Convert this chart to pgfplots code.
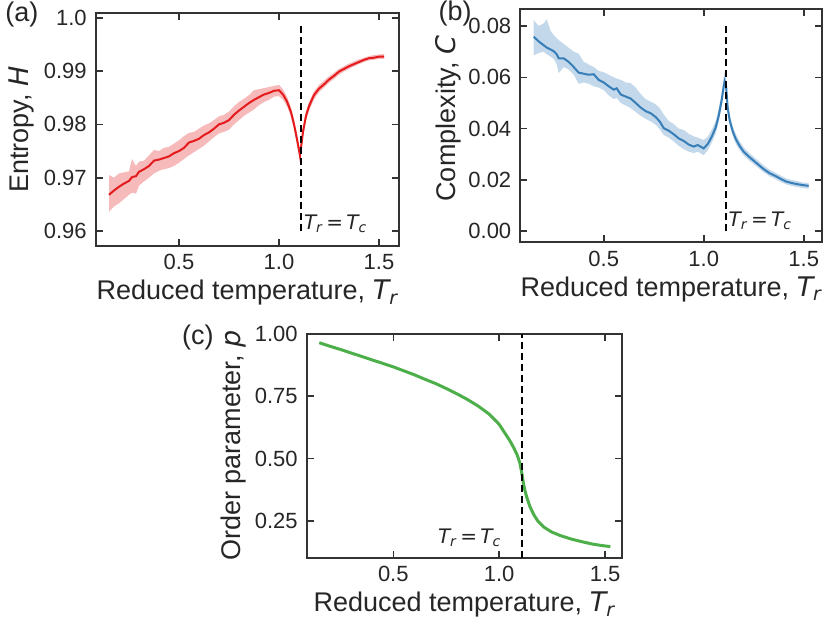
\documentclass[border=0pt]{standalone}
\usepackage{fontspec}
\setmainfont{Liberation Sans}
\newfontfamily\mfont{DejaVu Sans}
\usepackage{pgfplots}
\usepackage{pgfplotstable}
\pgfplotsset{compat=1.18}
\usepgfplotslibrary{fillbetween}
\definecolor{setred}{HTML}{E41A1C}
\definecolor{setblue}{HTML}{377EB8}
\definecolor{setgreen}{HTML}{4DAF4A}
\definecolor{axgray}{HTML}{333333}
\definecolor{txt}{HTML}{262626}
\newcommand{\mi}[1]{{\mfont\itshape #1}}
\newcommand{\Tr}{\mi{T}\textsubscript{\mi{r}}}
\newcommand{\TrTc}{\Tr\,{\mfont =}\,\mi{T}\textsubscript{\mi{c}}}

\pgfplotstableread{
x y lo hi
0.150 0.9668 0.9636 0.9705
0.175 0.9676 0.9646 0.9700
0.200 0.9683 0.9652 0.9708
0.225 0.9689 0.9660 0.9710
0.250 0.9694 0.9668 0.9712
0.265 0.9701 0.9672 0.9735
0.285 0.9703 0.9670 0.9722
0.300 0.9711 0.9685 0.9730
0.325 0.9716 0.9693 0.9732
0.350 0.9722 0.9700 0.9742
0.375 0.9732 0.9708 0.9752
0.400 0.9734 0.9713 0.9750
0.425 0.9737 0.9716 0.9756
0.450 0.9740 0.9718 0.9758
0.475 0.9746 0.9722 0.9764
0.500 0.9750 0.9728 0.9770
0.525 0.9756 0.9735 0.9778
0.550 0.9766 0.9742 0.9784
0.575 0.9769 0.9748 0.9786
0.600 0.9773 0.9754 0.9792
0.625 0.9780 0.9760 0.9798
0.650 0.9785 0.9768 0.9802
0.675 0.9792 0.9776 0.9808
0.700 0.9800 0.9783 0.9815
0.725 0.9803 0.9786 0.9818
0.750 0.9808 0.9790 0.9824
0.775 0.9818 0.9800 0.9834
0.800 0.9826 0.9808 0.9842
0.825 0.9833 0.9816 0.9848
0.850 0.9840 0.9822 0.9855
0.875 0.9846 0.9828 0.9864
0.900 0.9851 0.9836 0.9866
0.925 0.9856 0.9842 0.9868
0.950 0.9859 0.9846 0.9870
0.975 0.9863 0.9852 0.9872
1.000 0.9864 0.9853 0.9874
1.020 0.9856 0.9846 0.9866
1.040 0.9843 0.9834 0.9852
1.060 0.9823 0.9814 0.9832
1.075 0.9800 0.9791 0.9810
1.090 0.9772 0.9762 0.9782
1.100 0.9752 0.9742 0.9762
1.105 0.9741 0.9731 0.9752
1.112 0.9762 0.9752 0.9772
1.120 0.9786 0.9776 0.9796
1.135 0.9816 0.9807 0.9825
1.150 0.9834 0.9825 0.9842
1.175 0.9855 0.9847 0.9862
1.200 0.9867 0.9860 0.9874
1.225 0.9875 0.9869 0.9882
1.250 0.9884 0.9878 0.9890
1.275 0.9891 0.9885 0.9897
1.300 0.9899 0.9893 0.9904
1.325 0.9904 0.9899 0.9909
1.350 0.9909 0.9904 0.9914
1.375 0.9913 0.9909 0.9918
1.400 0.9917 0.9913 0.9922
1.425 0.9921 0.9917 0.9925
1.450 0.9924 0.9920 0.9928
1.475 0.9925 0.9921 0.9930
1.500 0.9927 0.9923 0.9931
1.525 0.9927 0.9923 0.9932
}\tabA

\pgfplotstableread{
x y lo hi
0.150 0.0758 0.0685 0.0823
0.175 0.0740 0.0695 0.0800
0.200 0.0725 0.0700 0.0810
0.215 0.0716 0.0690 0.0826
0.235 0.0708 0.0680 0.0780
0.250 0.0702 0.0672 0.0765
0.265 0.0690 0.0650 0.0752
0.275 0.0674 0.0616 0.0745
0.300 0.0674 0.0640 0.0730
0.325 0.0660 0.0630 0.0715
0.350 0.0640 0.0610 0.0700
0.375 0.0618 0.0575 0.0692
0.400 0.0614 0.0580 0.0660
0.425 0.0610 0.0575 0.0650
0.450 0.0612 0.0565 0.0640
0.475 0.0590 0.0560 0.0625
0.500 0.0580 0.0550 0.0620
0.525 0.0565 0.0530 0.0610
0.550 0.0552 0.0515 0.0600
0.565 0.0557 0.0520 0.0595
0.585 0.0533 0.0500 0.0590
0.610 0.0525 0.0490 0.0580
0.635 0.0517 0.0480 0.0577
0.660 0.0500 0.0465 0.0560
0.685 0.0482 0.0450 0.0535
0.710 0.0468 0.0438 0.0515
0.735 0.0460 0.0428 0.0505
0.760 0.0445 0.0415 0.0495
0.780 0.0428 0.0398 0.0480
0.800 0.0402 0.0375 0.0455
0.825 0.0392 0.0365 0.0430
0.850 0.0378 0.0350 0.0418
0.875 0.0362 0.0333 0.0400
0.900 0.0352 0.0320 0.0395
0.925 0.0338 0.0310 0.0380
0.950 0.0330 0.0305 0.0370
0.970 0.0336 0.0310 0.0365
1.000 0.0323 0.0297 0.0356
1.020 0.0340 0.0315 0.0368
1.040 0.0368 0.0345 0.0395
1.060 0.0405 0.0380 0.0430
1.075 0.0450 0.0425 0.0478
1.090 0.0512 0.0485 0.0540
1.100 0.0565 0.0540 0.0600
1.105 0.0585 0.0560 0.0620
1.112 0.0565 0.0540 0.0595
1.120 0.0480 0.0458 0.0505
1.130 0.0432 0.0412 0.0455
1.145 0.0390 0.0372 0.0410
1.160 0.0360 0.0342 0.0380
1.180 0.0332 0.0316 0.0350
1.200 0.0310 0.0295 0.0327
1.230 0.0288 0.0274 0.0303
1.265 0.0265 0.0252 0.0280
1.300 0.0242 0.0230 0.0256
1.330 0.0226 0.0214 0.0240
1.360 0.0215 0.0203 0.0228
1.390 0.0202 0.0190 0.0215
1.415 0.0193 0.0182 0.0205
1.440 0.0188 0.0177 0.0200
1.465 0.0184 0.0173 0.0196
1.495 0.0180 0.0168 0.0190
1.525 0.0177 0.0166 0.0188
}\tabB

\pgfplotstableread{
x y
0.150 0.965
0.200 0.951
0.250 0.938
0.300 0.924
0.350 0.910
0.400 0.896
0.450 0.882
0.500 0.868
0.550 0.852
0.600 0.836
0.650 0.818
0.700 0.801
0.750 0.781
0.800 0.760
0.850 0.737
0.900 0.711
0.950 0.680
0.980 0.655
1.000 0.637
1.027 0.602
1.050 0.572
1.070 0.541
1.085 0.514
1.098 0.481
1.105 0.450
1.110 0.425
1.115 0.398
1.121 0.374
1.130 0.345
1.145 0.307
1.165 0.272
1.184 0.247
1.210 0.225
1.247 0.205
1.290 0.190
1.342 0.176
1.390 0.166
1.436 0.157
1.480 0.151
1.525 0.146
}\tabC

\pgfplotsset{panel/.style={
  scale only axis,
  anchor=south west,
  axis line style={axgray, line width=0.9pt},
  every tick/.style={axgray, line width=0.8pt},
  major tick length=3.5pt,
  tick align=inside,
  xtick pos=both, ytick pos=both,
  minor tick num=0,
  scaled ticks=false,
  tick label style={font=\fontsize{11}{13}\selectfont, text=txt},
  xticklabel style={yshift=-0.8pt},
  yticklabel style={xshift=-1pt},
  label style={font=\fontsize{13.5}{16}\selectfont, text=txt},
  xtick={0.5,1.0,1.5},
  xticklabels={0.5,1.0,1.5},
}}
\tikzset{vl/.style={black, line width=0.9pt, dash pattern=on 3.5pt off 2pt}}

\begin{document}
\begin{tikzpicture}
\path (0,0) rectangle (415.5pt,313pt);

% (a)
\begin{axis}[panel,
  at={(47.85pt,190.15pt)}, width=151.65pt, height=116.2pt,
  xmin=0.0835, xmax=1.60, ymin=0.95725, ymax=1.00083,
  ytick={0.96,0.97,0.98,0.99,1.0},
  yticklabels={0.96,0.97,0.98,0.99,1.0},
  xlabel={Reduced temperature, \Tr},
  ylabel={Entropy, \mi{H}},
  xlabel style={at={(axis description cs:0.5,-0.2324)}, anchor=base},
  ylabel style={at={(axis description cs:-0.2232,0.5)}, anchor=base},
]
\addplot[name path=aL, draw=none, forget plot] table[x=x,y=lo]{\tabA};
\addplot[name path=aH, draw=none, forget plot] table[x=x,y=hi]{\tabA};
\addplot[fill=setred, fill opacity=0.3, draw=none] fill between[of=aL and aH];
\addplot[setred, line width=1pt] table[x=x,y=y]{\tabA};
\addplot[vl] coordinates {(1.11,0.96) (1.11,0.9984)};
\node[anchor=base west, font=\fontsize{10}{12}\selectfont, text=txt, inner sep=0pt] at (axis cs:1.123,0.9602) {\TrTc};
\end{axis}

% (b)
\begin{axis}[panel,
  at={(260.15pt,191.85pt)}, width=151pt, height=116.5pt,
  xmin=0.083, xmax=1.593, ymin=-0.0043, ymax=0.0865,
  ytick={0,0.02,0.04,0.06,0.08},
  yticklabels={0.00,0.02,0.04,0.06,0.08},
  xlabel={Reduced temperature, \Tr},
  ylabel={Complexity, \mi{C}},
  xlabel style={at={(axis description cs:0.5,-0.2318)}, anchor=base},
  ylabel style={at={(axis description cs:-0.213,0.53)}, anchor=base},
]
\addplot[name path=bL, draw=none, forget plot] table[x=x,y=lo]{\tabB};
\addplot[name path=bH, draw=none, forget plot] table[x=x,y=hi]{\tabB};
\addplot[fill=setblue, fill opacity=0.3, draw=none] fill between[of=bL and bH];
\addplot[setblue, line width=1pt] table[x=x,y=y]{\tabB};
\addplot[vl] coordinates {(1.11,0.0) (1.11,0.08)};
\node[anchor=base west, font=\fontsize{10}{12}\selectfont, text=txt, inner sep=0pt] at (axis cs:1.123,0.0018) {\TrTc};
\end{axis}

% (c)
\begin{axis}[panel,
  at={(153.35pt,34.15pt)}, width=157.65pt, height=111.85pt,
  xmin=0.091, xmax=1.580, ymin=0.1016, ymax=1.0,
  ytick={0.25,0.5,0.75,1.0},
  yticklabels={0.25,0.50,0.75,1.00},
  xlabel={Reduced temperature, \Tr},
  ylabel={Order parameter, \mi{p}},
  xlabel style={at={(axis description cs:0.5,-0.2414)}, anchor=base},
  ylabel style={at={(axis description cs:-0.2084,0.5)}, anchor=base},
]
\addplot[setgreen, line width=1.5pt] table[x=x,y=y]{\tabC};
\addplot[vl] coordinates {(1.106,0.1016) (1.106,1.0)};
\node[anchor=base east, font=\fontsize{10}{12}\selectfont, text=txt, inner sep=0pt] at (axis cs:1.012,0.1605) {\TrTc};
\end{axis}

\node[anchor=base west, font=\fontsize{13.5}{16}\selectfont, text=txt, inner sep=0pt] at (2.5pt,302.15pt) {(a)};
\node[anchor=base west, font=\fontsize{13.5}{16}\selectfont, text=txt, inner sep=0pt] at (219.15pt,302.65pt) {(b)};
\node[anchor=base west, font=\fontsize{13.5}{16}\selectfont, text=txt, inner sep=0pt] at (90.85pt,140.5pt) {(c)};
\end{tikzpicture}
\end{document}
